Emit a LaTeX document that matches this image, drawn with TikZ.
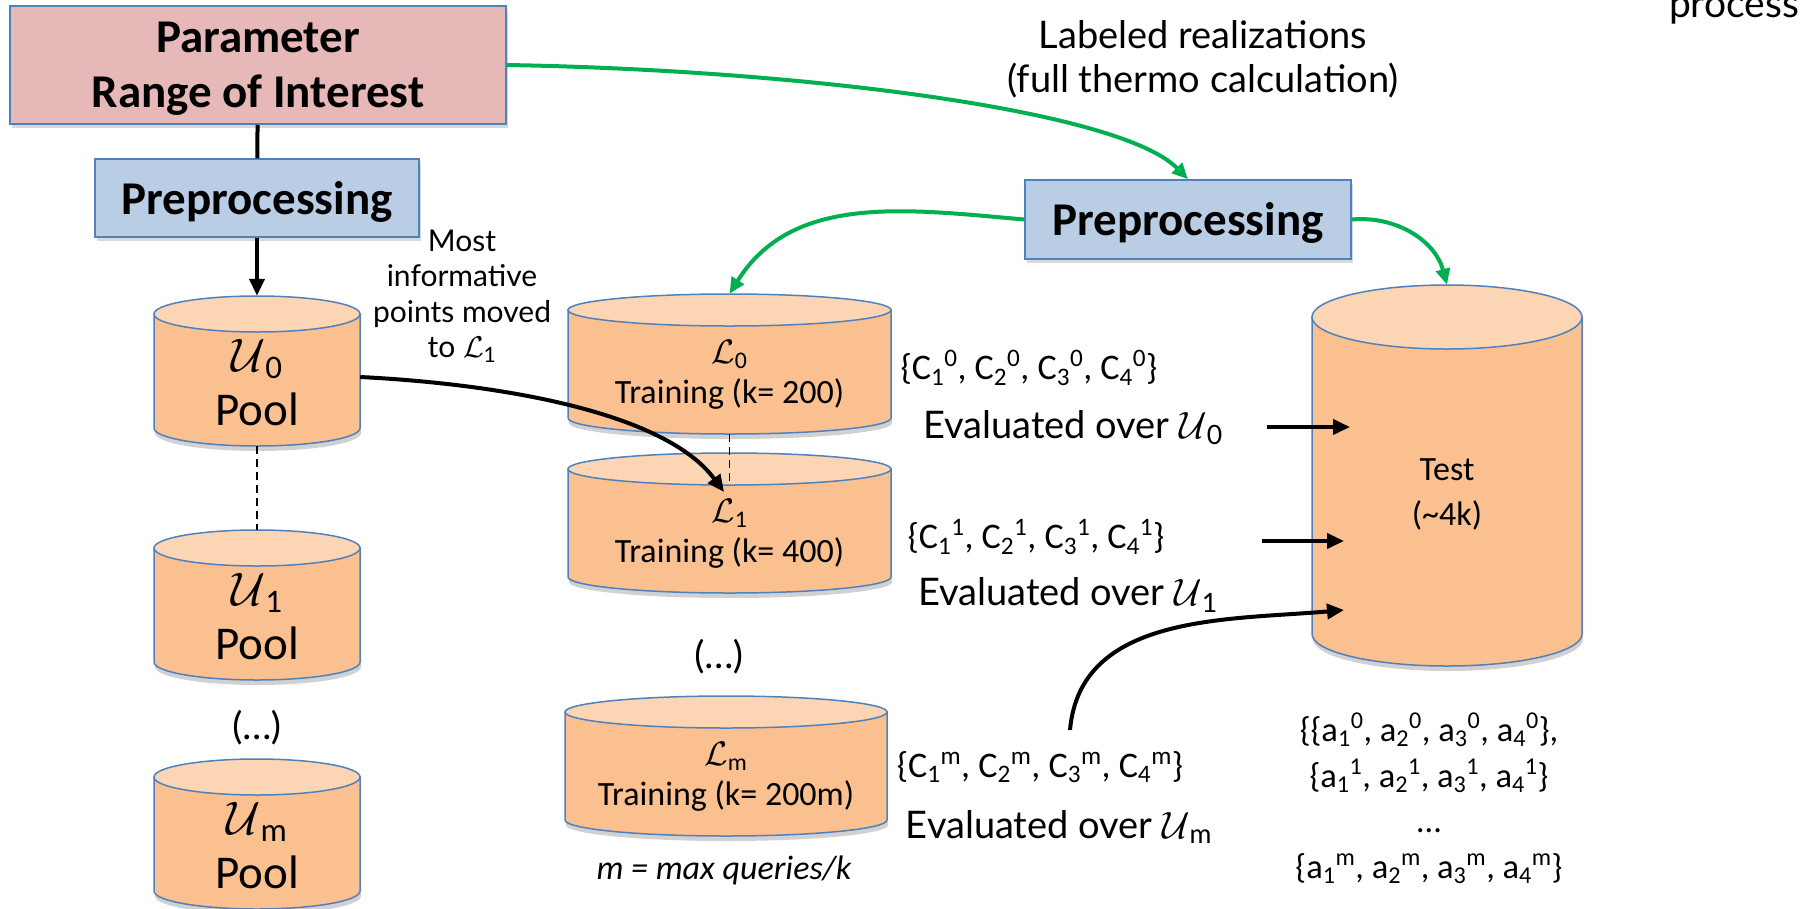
\RequirePackage{fix-cm}
\documentclass[tikz,border=0pt]{standalone}
\usepackage{fontspec}
\setmainfont{Carlito}
\newfontfamily\humanist{Lato}
\usepackage{tikz}
\usetikzlibrary{arrows.meta,positioning,shapes.geometric,shadows}

\definecolor{rangepink}{HTML}{E6B9B8}
\definecolor{prepblue}{HTML}{B9CDE5}
\definecolor{edgeblue}{HTML}{4F81BD}
\definecolor{drumbody}{HTML}{FAC090}
\definecolor{drumtop}{HTML}{FCD5B5}
\definecolor{flowgreen}{HTML}{00B050}

\newcommand{\fsz}[2]{\fontsize{#1}{#2}\selectfont}
% coefficient with lower index followed by upper index
\newcommand{\coef}[3]{#1\textsubscript{#2}\textsuperscript{#3}}
% data drum: [text style]{name}{centre}{width}{height}{cap radius}{text}
\newcommand{\drum}[7][]{%
  \begin{scope}[shift={(#3)}]
    \pgfmathsetmacro\hw{#4/2}%
    \pgfmathsetmacro\cy{#5/2-#6}%
    \fill[black,opacity=0.18] (-\hw+1,\cy-5) -- (-\hw+1,-\cy-5)
      arc[start angle=180,end angle=360,x radius=\hw,y radius=#6] -- (\hw+1,\cy-5) -- cycle;
    \filldraw[drumside] (-\hw,\cy) -- (-\hw,-\cy)
      arc[start angle=180,end angle=360,x radius=\hw,y radius=#6] -- (\hw,\cy) -- cycle;
    \filldraw[drumcap] (0,\cy) ellipse[x radius=\hw,y radius=#6];
  \end{scope}
  \node[minimum width=#4,minimum height=#5,inner sep=0pt] (#2) at (#3) {};
  \pgfmathsetmacro\dy{#6/2+3}%
  \node[align=center,#1] (#2-txt) at ([yshift=-\dy pt]#2.center) {#7};
}

\begin{document}
\begin{tikzpicture}[x=1pt,y=1pt,
  box/.style={rectangle,draw=edgeblue,line width=1.5pt,align=center,text depth=0pt,
    font=\fsz{47}{55}\bfseries,drop shadow={opacity=0.3,shadow xshift=2pt,shadow yshift=-4pt}},
  drumside/.style={draw=edgeblue,line width=1.5pt,fill=drumbody},
  drumcap/.style={draw=edgeblue,line width=1.5pt,fill=drumtop},
  pooltext/.style={font=\fsz{47}{54}},
  traintext/.style={font=\fsz{34}{40}},
  note/.style={align=center,font=\fsz{36}{45.7}},
  evaltext/.style={font=\humanist\fsz{38}{44}},
  link/.style={dash pattern=on 8pt off 5pt,line width=1.5pt},
  blk/.style={line width=4pt,-{Triangle[length=17pt,width=15pt]}},
  grn/.style={line width=4pt,flowgreen,-{Triangle[length=16pt,width=14pt]}}
]
\useasboundingbox (0,0) rectangle (1814,-908);

% parameter range and the two preprocessing steps
\node[box,fill=rangepink,minimum width=496pt,minimum height=118pt] (range) at (258,-65) {Parameter\\Range of Interest};
\node[box,fill=prepblue,minimum width=324pt,minimum height=78pt] (prepA) at (257,-198) {Preprocessing};
\node[box,fill=prepblue,minimum width=326pt,minimum height=79pt] (prepB) at (1188,-219.5) {Preprocessing};

% unlabeled pools
\drum[pooltext]{u0}{257,-371}{206}{150}{18}{$\mathcal{U}$\textsubscript{0}\\Pool}
\drum[pooltext]{u1}{257,-605}{206}{150}{18}{$\mathcal{U}$\textsubscript{1}\\Pool}
\drum[pooltext]{um}{257,-834}{206}{150}{18}{$\mathcal{U}$\textsubscript{m}\\Pool}
\node[font=\fsz{40}{48}] (udots) at (257,-728) {(\ldots)};

% labeled training sets
\drum[traintext]{l0}{729.5,-364}{323}{140}{16}{$\mathcal{L}$\textsubscript{0}\\Training (k= 200)}
\drum[traintext]{l1}{729.5,-523}{323}{140}{16}{$\mathcal{L}$\textsubscript{1}\\Training (k= 400)}
\drum[traintext]{lm}{726,-766}{322}{140}{16}{$\mathcal{L}$\textsubscript{m}\\Training (k= 200m)}
\node[font=\fsz{40}{48}] (ldots) at (719,-657) {(\ldots)};
\node[font=\fsz{34}{40}\itshape] (mdef) at (724,-870) {m = max queries/k};

% test set
\drum[font=\fsz{34}{45}]{test}{1447,-475.5}{270}{381}{32}{Test\\(\textasciitilde4k)}

% texts
\node[align=center,font=\humanist\fsz{38}{44}] (labeled) at (1203,-59) {Labeled realizations\\(full thermo calculation)};
\node[align=center,font=\humanist\fsz{30}{35.5}] (moved) at (462,-296) {Most\\informative\\points moved\\to $\mathcal{L}$\textsubscript{1}};
\node[anchor=base,font=\humanist\fsz{39}{44}] (process) at (1734,-17) {process};

\node[note] (c0) at (1029,-368) {\{\coef{C}{1}{0}, \coef{C}{2}{0}, \coef{C}{3}{0}, \coef{C}{4}{0}\}};
\node[note] (c1) at (1036,-537) {\{\coef{C}{1}{1}, \coef{C}{2}{1}, \coef{C}{3}{1}, \coef{C}{4}{1}\}};
\node[note] (cm) at (1040,-767) {\{\coef{C}{1}{m}, \coef{C}{2}{m}, \coef{C}{3}{m}, \coef{C}{4}{m}\}};
\node[evaltext] (ev0) at (1073,-428) {Evaluated over $\mathcal{U}$\textsubscript{0}};
\node[evaltext] (ev1) at (1068,-595) {Evaluated over $\mathcal{U}$\textsubscript{1}};
\node[evaltext] (evm) at (1059,-827) {Evaluated over $\mathcal{U}$\textsubscript{m}};

\node[note,font=\fsz{34.5}{45.7}] (acc) at (1429,-798.5) {\{\{\coef{a}{1}{0}, \coef{a}{2}{0}, \coef{a}{3}{0}, \coef{a}{4}{0}\},\\
  \{\coef{a}{1}{1}, \coef{a}{2}{1}, \coef{a}{3}{1}, \coef{a}{4}{1}\}\\
  \ldots\\
  \{\coef{a}{1}{m}, \coef{a}{2}{m}, \coef{a}{3}{m}, \coef{a}{4}{m}\}};

% free arrow ends
\coordinate (drop) at (724,-492);
\coordinate (e0s) at (1267,-427);
\coordinate (e0t) at (1350,-427);
\coordinate (e1s) at (1262,-541);
\coordinate (e1t) at (1344,-541);
\coordinate (ems) at (1070,-730);
\coordinate (emt) at (1344,-610);

% connectors
\draw[line width=4pt] (range) -- (prepA);
\draw[blk] (prepA) -- (u0.north);
\draw[link] (u0.south) -- (u1.north);
\draw[link] (l0.south) -- ([yshift=-30pt]l1.north);
\draw[blk] ([yshift=-6pt]u0.east) .. controls (500,-384) and (665,-412) .. (drop);

\draw[grn] (range.east) .. controls (800,-70) and (1120,-110) .. (prepB.north);
\draw[grn] (prepB.west) to[out=175,in=58] (l0.north);
\draw[grn] (prepB.east) to[out=5,in=105] (test.north);

\draw[blk] (e0s) -- (e0t);
\draw[blk] (e1s) -- (e1t);
\draw[blk] (ems) to[out=85,in=185] (emt);
\end{tikzpicture}
\end{document}
